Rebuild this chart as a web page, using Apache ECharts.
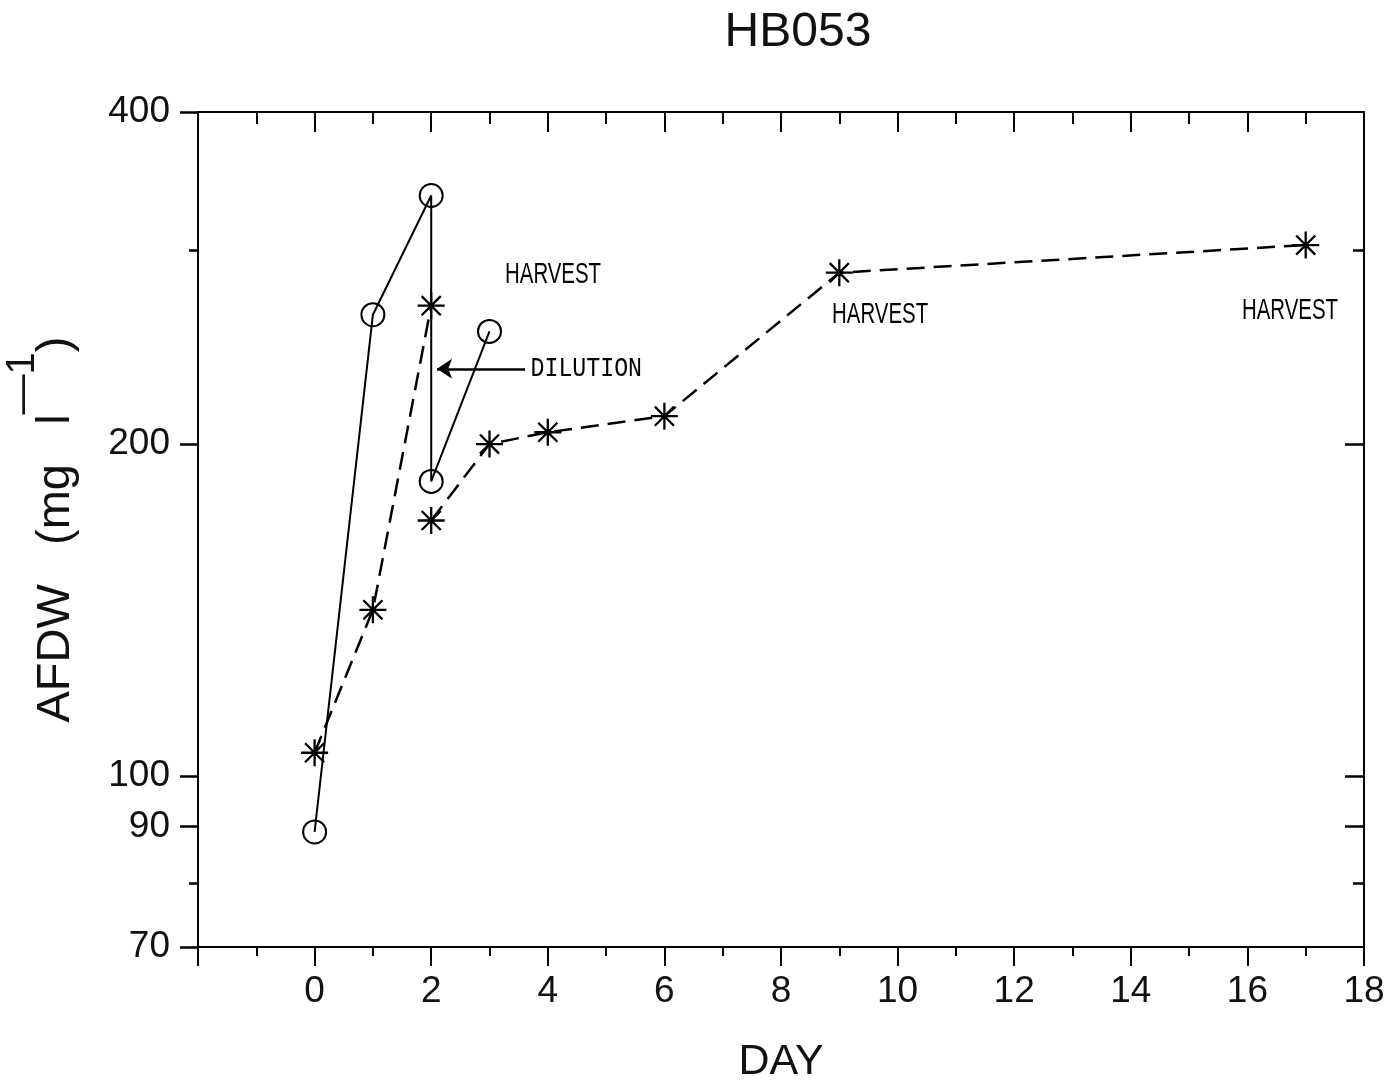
<!DOCTYPE html>
<html>
<head>
<meta charset="utf-8">
<title>HB053</title>
<script src="https://cdn.jsdelivr.net/npm/echarts@6/dist/echarts.min.js"></script>
<style>
  html, body { margin: 0; padding: 0; background: #fff; }
  #main { width: 1398px; height: 1088px; }
</style>
</head>
<body>
<div id="main"></div>
<script>
// circles, solid line (the drop at day 2 is the dilution)
var circleDays = [0, 1, 2, 2, 3];
var circleVals = [89, 262, 336, 185, 253];

// asterisks, dashed line, broken at the dilution
var starDays1 = [0, 1, 2];
var starVals1 = [105, 141.5, 267];
var starDays2 = [2, 3, 4, 6, 9, 17];
var starVals2 = [170.5, 200, 205, 212, 286, 303];

// tick labels
var xLabelVals = [0, 2, 4, 6, 8, 10, 12, 14, 16, 18];
var yLabelVals = [70, 90, 100, 200, 400];
var yShortTicks = [80, 300];
var yRightTicks = [90, 100, 200];

// notes on the plot (data coordinates)
var noteText = ['HARVEST', 'HARVEST', 'HARVEST', 'DILUTION'];
var noteX = [4.09, 9.7, 16.73, 4.66];
var noteY = [285, 262, 264, 234];
var arrowFrom = [3.61, 234];
var arrowTo = [2.1, 234];

var chart = echarts.init(document.getElementById('main'));

function zip(xs, ys) {
  return xs.map(function (x, i) { return [x, ys[i]]; });
}

var FONT = '"Liberation Sans", Arial, sans-serif';
var starSymbol = 'path://M0,-10L0,10M-10,0L10,0M-7.07,-7.07L7.07,7.07M-7.07,7.07L7.07,-7.07';

var lineAxis = { show: true, onZero: false, lineStyle: { color: '#000', width: 2 } };

function xAxisBase(pos) {
  return {
    type: 'value', position: pos, min: -2, max: 18, interval: 2,
    axisLine: lineAxis, splitLine: { show: false }
  };
}

var xBottom = xAxisBase('bottom');
xBottom.axisTick = { show: true, inside: false, length: 19, lineStyle: { color: '#000', width: 2 } };
xBottom.minorTick = { show: true, splitNumber: 2, length: 9, lineStyle: { color: '#000', width: 2 } };
xBottom.axisLabel = {
  margin: 26, fontSize: 37, color: '#111', fontFamily: FONT,
  formatter: function (v) { return xLabelVals.indexOf(v) >= 0 ? String(v) : ''; }
};
xBottom.name = 'DAY';
xBottom.nameLocation = 'middle';
xBottom.nameGap = 94;
xBottom.nameTextStyle = { fontSize: 43, color: '#111', fontFamily: FONT };

var xTop = xAxisBase('top');
xTop.axisTick = { show: true, inside: true, length: 20, lineStyle: { color: '#000', width: 2 } };
xTop.minorTick = { show: true, splitNumber: 2, length: 12, lineStyle: { color: '#000', width: 2 } };
xTop.axisLabel = { show: false };

function yAxisBase(pos) {
  return {
    type: 'log', logBase: 10, position: pos, min: 70, max: 400,
    axisLine: { show: false, onZero: false }, splitLine: { show: false }, axisLabel: { show: false }
  };
}

var yLeft = yAxisBase('left');
yLeft.axisLine = lineAxis;
yLeft.axisTick = { show: true, inside: false, length: 18, customValues: yLabelVals, lineStyle: { color: '#000', width: 2.5 } };
yLeft.axisLabel = { show: true, customValues: yLabelVals, margin: 28, fontSize: 37, color: '#111', fontFamily: FONT };
yLeft.name = '{a|AFDW   (mg   l}{s|\u20141}{a|)}';
yLeft.nameLocation = 'middle';
yLeft.nameGap = 118;
yLeft.nameTextStyle = {
  rich: {
    a: { fontSize: 47, lineHeight: 47, color: '#111', fontFamily: FONT, verticalAlign: 'bottom' },
    s: { fontSize: 40, lineHeight: 77, color: '#111', fontFamily: FONT, verticalAlign: 'top' }
  }
};

var yLeftShort = yAxisBase('left');
yLeftShort.axisTick = { show: true, inside: false, length: 9, customValues: yShortTicks, lineStyle: { color: '#000', width: 2.5 } };

var yRight = yAxisBase('right');
yRight.axisLine = lineAxis;
yRight.axisTick = { show: true, inside: true, length: 19, customValues: yRightTicks, lineStyle: { color: '#000', width: 2.5 } };

var yRightShort = yAxisBase('right');
yRightShort.axisTick = { show: true, inside: true, length: 11, customValues: yShortTicks, lineStyle: { color: '#000', width: 2.5 } };

var starStyle = {
  type: 'line', xAxisIndex: 0, yAxisIndex: 0,
  symbol: starSymbol, symbolSize: 27, showAllSymbol: true,
  itemStyle: { color: 'rgba(0,0,0,0)', borderColor: '#000', borderWidth: 2.3 },
  lineStyle: { color: '#000', width: 2.5, type: [18, 9] },
  z: 3
};

var option = {
  animation: false,
  backgroundColor: '#fff',
  title: {
    text: 'HB053', left: 793, top: 4, textAlign: 'center',
    textStyle: { fontSize: 48, fontWeight: 'normal', color: '#111', fontFamily: FONT }
  },
  grid: { left: 198, right: 34, top: 112, bottom: 141, containLabel: false, outerBoundsMode: 'none' },
  xAxis: [xBottom, xTop],
  yAxis: [yLeft, yLeftShort, yRight, yRightShort],
  series: [
    {
      type: 'line', name: 'circles', xAxisIndex: 0, yAxisIndex: 0,
      data: zip(circleDays, circleVals),
      symbol: 'circle', symbolSize: 23, showAllSymbol: true,
      itemStyle: { color: 'rgba(0,0,0,0)', borderColor: '#000', borderWidth: 2 },
      lineStyle: { color: '#000', width: 2 },
      z: 4
    },
    Object.assign({ name: 'stars1', data: zip(starDays1, starVals1) }, starStyle),
    Object.assign({ name: 'stars2', data: zip(starDays2, starVals2) }, starStyle),
    {
      type: 'line', name: 'arrow', xAxisIndex: 0, yAxisIndex: 0,
      data: [], color: '#000', silent: true,
      markLine: {
        silent: true, symbol: ['none', 'arrow'], symbolSize: 15,
        label: { show: false },
        lineStyle: { color: '#000', width: 2.5, type: 'solid' },
        data: [[{ coord: arrowFrom }, { coord: arrowTo }]]
      }
    }
  ]
};

chart.setOption(option);

// notes: narrow lettering, placed through the chart's own scales
var noteGraphics = noteText.map(function (t, i) {
  var p = chart.convertToPixel({ xAxisIndex: 0, yAxisIndex: 0 }, [noteX[i], noteY[i]]);
  var mono = t === 'DILUTION';
  return {
    type: 'text', x: p[0], y: p[1], scaleX: mono ? 0.86 : 0.68, silent: true,
    style: {
      text: t, fill: '#000',
      fontSize: mono ? 27 : 30,
      fontFamily: mono ? '"Liberation Mono", monospace' : FONT,
      align: 'center', verticalAlign: 'middle'
    }
  };
});
chart.setOption({ graphic: noteGraphics });
</script>
</body>
</html>
